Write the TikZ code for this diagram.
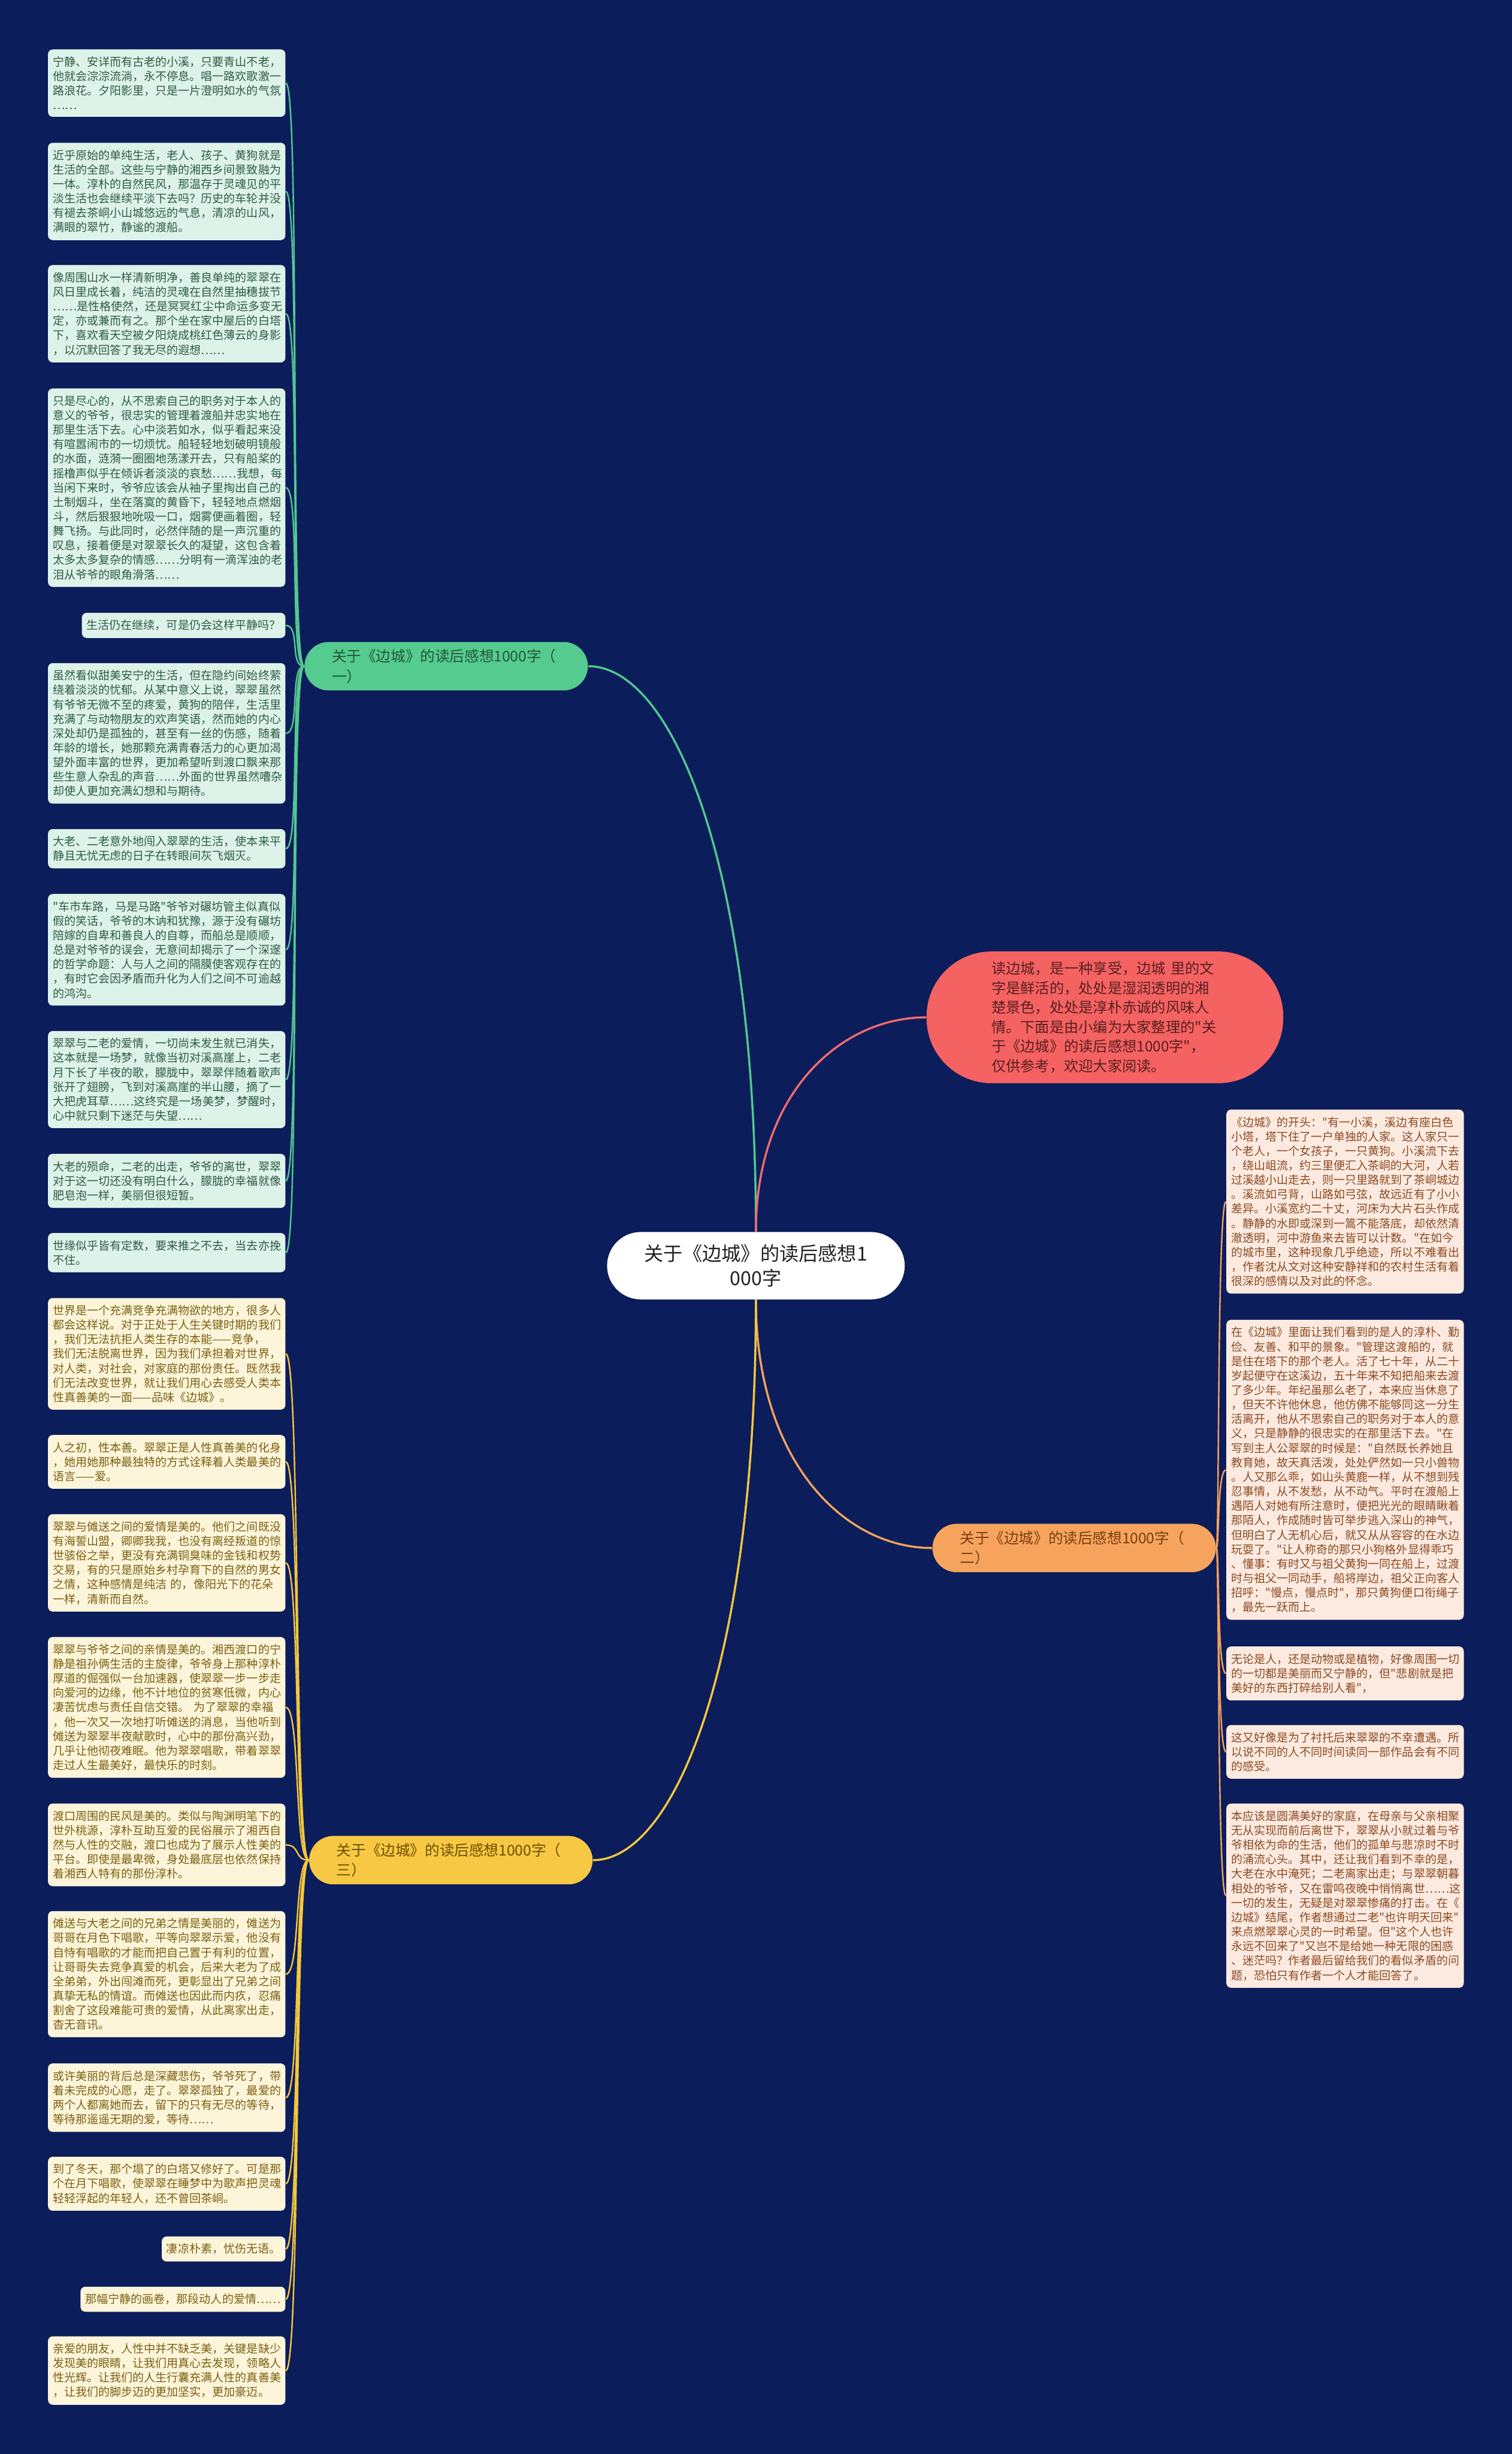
\documentclass[tikz,border=0pt]{standalone}
\usepackage{fontspec}
\setmainfont{Noto Sans CJK SC}[Ligatures=TeXOff]
\usepackage{xcolor}
\usetikzlibrary{positioning,calc}
\definecolor{bgnavy}{HTML}{0C1D5B}
\definecolor{lineg}{HTML}{52C88E}
\definecolor{leafgfill}{HTML}{DDF3E9}
\definecolor{leafgtext}{HTML}{2F5A44}
\definecolor{nodeg}{HTML}{55CB8F}
\definecolor{nodegtext}{HTML}{24553A}
\definecolor{liney}{HTML}{F3C73C}
\definecolor{leafyfill}{HTML}{FCF5DA}
\definecolor{leafytext}{HTML}{7B6012}
\definecolor{nodey}{HTML}{F7C843}
\definecolor{nodeytext}{HTML}{6B4E00}
\definecolor{lineo}{HTML}{F2A25C}
\definecolor{leafofill}{HTML}{FCEAE0}
\definecolor{leafotext}{HTML}{8B4A22}
\definecolor{nodeo}{HTML}{F6A45D}
\definecolor{nodeotext}{HTML}{7A3D0F}
\definecolor{introfill}{HTML}{F46262}
\definecolor{introtext}{HTML}{5A1F1F}
\definecolor{linep}{HTML}{F06C6C}
\definecolor{maintext}{HTML}{222222}

\begin{document}
\begin{tikzpicture}[
   leaf/.style={rounded corners=0.8mm,inner xsep=0.8mm,inner ysep=1.2mm,align=left,
     font=\fontsize{5.5}{6.97}\selectfont},
   leafG/.style={leaf,fill=leafgfill,text=leafgtext,anchor=north east},
   leafY/.style={leaf,fill=leafyfill,text=leafytext,anchor=north east},
   leafO/.style={leaf,fill=leafofill,text=leafotext,anchor=north west},
   wide/.style={text width=38.6mm},
   branch/.style={rounded corners=4.1mm,minimum width=48mm,minimum height=8.2mm,
     text width=38.7mm,align=left,inner sep=0pt,font=\fontsize{7.1}{9.7}\selectfont},
   tie/.style={line width=0.7pt},
   trunk/.style={line width=1pt}]
  \useasboundingbox (0,0) rectangle (25.6,-41.55);
  \fill[bgnavy] (0,0) rectangle (25.6,-41.55);

  \node[fill=white,text=maintext,rounded corners=5.7mm,minimum width=50.4mm,minimum height=11.4mm,
    align=center,font=\fontsize{9.3}{12}\selectfont] (main) at (12.80,-21.43) {关于《边城》的读后感想1\\000字};
  \node[fill=introfill,text=introtext,rounded corners=11mm,minimum width=60.4mm,minimum height=22.3mm,
    text width=38.4mm,align=left,font=\fontsize{7}{9.4}\selectfont] (intro) at (18.71,-17.225)
    {读边城，是一种享受，边城~里的文\\字是鲜活的，处处是湿润透明的湘\\楚景色，处处是淳朴赤诚的风味人\\情。下面是由小编为大家整理的"关\\于《边城》的读后感想1000字"，\\仅供参考，欢迎大家阅读。};
  \node[branch,fill=nodeg,text=nodegtext] (b1) at (7.555,-11.28) {关于《边城》的读后感想1000字（\\一）};
  \node[branch,fill=nodeo,text=nodeotext] (b2) at (18.19,-26.21) {关于《边城》的读后感想1000字（\\二）};
  \node[branch,fill=nodey,text=nodeytext] (b3) at (7.635,-31.495) {关于《边城》的读后感想1000字（\\三）};

  \node[leafG,wide] (g1) at (4.84,-0.83) {宁静、安详而有古老的小溪，只要青山不老，\\他就会淙淙流淌，永不停息。唱一路欢歌激一\\路浪花。夕阳影里，只是一片澄明如水的气氛\\……};
  \node[leafG,wide] (g2) at (4.84,-2.41) {近乎原始的单纯生活，老人、孩子、黄狗就是\\生活的全部。这些与宁静的湘西乡间景致融为\\一体。淳朴的自然民风，那温存于灵魂见的平\\淡生活也会继续平淡下去吗？历史的车轮并没\\有褪去茶峒小山城悠远的气息，清凉的山风，\\满眼的翠竹，静谧的渡船。};
  \node[leafG,wide] (g3) at (4.84,-4.48) {像周围山水一样清新明净，善良单纯的翠翠在\\风日里成长着，纯洁的灵魂在自然里抽穗拔节\\……是性格使然，还是冥冥红尘中命运多变无\\定，亦或兼而有之。那个坐在家中屋后的白塔\\下，喜欢看天空被夕阳烧成桃红色薄云的身影\\，以沉默回答了我无尽的遐想……};
  \node[leafG,wide] (g4) at (4.84,-6.57) {只是尽心的，从不思索自己的职务对于本人的\\意义的爷爷，很忠实的管理着渡船并忠实地在\\那里生活下去。心中淡若如水，似乎看起来没\\有喧嚣闹市的一切烦忧。船轻轻地划破明镜般\\的水面，涟漪一圈圈地荡漾开去，只有船桨的\\摇橹声似乎在倾诉者淡淡的哀愁……我想，每\\当闲下来时，爷爷应该会从袖子里掏出自己的\\土制烟斗，坐在落寞的黄昏下，轻轻地点燃烟\\斗，然后狠狠地吮吸一口，烟雾便画着圈，轻\\舞飞扬。与此同时，必然伴随的是一声沉重的\\叹息，接着便是对翠翠长久的凝望，这包含着\\太多太多复杂的情感……分明有一滴浑浊的老\\泪从爷爷的眼角滑落……};
  \node[leafG] (g5) at (4.84,-10.37) {生活仍在继续，可是仍会这样平静吗？};
  \node[leafG,wide] (g6) at (4.84,-11.22) {虽然看似甜美安宁的生活，但在隐约间始终萦\\绕着淡淡的忧郁。从某中意义上说，翠翠虽然\\有爷爷无微不至的疼爱，黄狗的陪伴，生活里\\充满了与动物朋友的欢声笑语，然而她的内心\\深处却仍是孤独的，甚至有一丝的伤感，随着\\年龄的增长，她那颗充满青春活力的心更加渴\\望外面丰富的世界，更加希望听到渡口飘来那\\些生意人杂乱的声音……外面的世界虽然嘈杂\\却使人更加充满幻想和与期待。};
  \node[leafG,wide] (g7) at (4.84,-14.03) {大老、二老意外地闯入翠翠的生活，使本来平\\静且无忧无虑的日子在转眼间灰飞烟灭。};
  \node[leafG,wide] (g8) at (4.84,-15.13) {"车市车路，马是马路"爷爷对碾坊管主似真似\\假的笑话，爷爷的木讷和犹豫，源于没有碾坊\\陪嫁的自卑和善良人的自尊，而船总是顺顺，\\总是对爷爷的误会，无意间却揭示了一个深邃\\的哲学命题：人与人之间的隔膜使客观存在的\\，有时它会因矛盾而升化为人们之间不可逾越\\的鸿沟。};
  \node[leafG,wide] (g9) at (4.84,-17.45) {翠翠与二老的爱情，一切尚未发生就已消失，\\这本就是一场梦，就像当初对溪高崖上，二老\\月下长了半夜的歌，朦胧中，翠翠伴随着歌声\\张开了翅膀，飞到对溪高崖的半山腰，摘了一\\大把虎耳草……这终究是一场美梦，梦醒时，\\心中就只剩下迷茫与失望……};
  \node[leafG,wide] (g10) at (4.84,-19.53) {大老的殒命，二老的出走，爷爷的离世，翠翠\\对于这一切还没有明白什么，朦胧的幸福就像\\肥皂泡一样，美丽但很短暂。};
  \node[leafG,wide] (g11) at (4.84,-20.87) {世缘似乎皆有定数，要来推之不去，当去亦挽\\不住。};

  \node[leafY,wide] (y1) at (4.84,-21.97) {世界是一个充满竞争充满物欲的地方，很多人\\都会这样说。对于正处于人生关键时期的我们\\，我们无法抗拒人类生存的本能——竞争，\\我们无法脱离世界，因为我们承担着对世界，\\对人类，对社会，对家庭的那份责任。既然我\\们无法改变世界，就让我们用心去感受人类本\\性真善美的一面——品味《边城》。};
  \node[leafY,wide] (y2) at (4.84,-24.29) {人之初，性本善。翠翠正是人性真善美的化身\\，她用她那种最独特的方式诠释着人类最美的\\语言——爱。};
  \node[leafY,wide] (y3) at (4.84,-25.63) {翠翠与傩送之间的爱情是美的。他们之间既没\\有海誓山盟，卿卿我我，也没有离经叛道的惊\\世骇俗之举，更没有充满铜臭味的金钱和权势\\交易，有的只是原始乡村孕育下的自然的男女\\之情，这种感情是纯洁~的，像阳光下的花朵\\一样，清新而自然。};
  \node[leafY,wide] (y4) at (4.84,-27.71) {翠翠与爷爷之间的亲情是美的。湘西渡口的宁\\静是祖孙俩生活的主旋律，爷爷身上那种淳朴\\厚道的倔强似一台加速器，使翠翠一步一步走\\向爱河的边缘，他不计地位的贫寒低微，内心\\凄苦忧虑与责任自信交错。~为了翠翠的幸福\\，他一次又一次地打听傩送的消息，当他听到\\傩送为翠翠半夜献歌时，心中的那份高兴劲，\\几乎让他彻夜难眠。他为翠翠唱歌，带着翠翠\\走过人生最美好，最快乐的时刻。};
  \node[leafY,wide] (y5) at (4.84,-30.53) {渡口周围的民风是美的。类似与陶渊明笔下的\\世外桃源，淳朴互助互爱的民俗展示了湘西自\\然与人性的交融，渡口也成为了展示人性美的\\平台。即使是最卑微，身处最底层也依然保持\\着湘西人特有的那份淳朴。};
  \node[leafY,wide] (y6) at (4.84,-32.35) {傩送与大老之间的兄弟之情是美丽的，傩送为\\哥哥在月色下唱歌，平等向翠翠示爱，他没有\\自恃有唱歌的才能而把自己置于有利的位置，\\让哥哥失去竞争真爱的机会，后来大老为了成\\全弟弟，外出闯滩而死，更彰显出了兄弟之间\\真挚无私的情谊。而傩送也因此而内疚，忍痛\\割舍了这段难能可贵的爱情，从此离家出走，\\杳无音讯。};
  \node[leafY,wide] (y7) at (4.84,-34.93) {或许美丽的背后总是深藏悲伤，爷爷死了，带\\着未完成的心愿，走了。翠翠孤独了，最爱的\\两个人都离她而去，留下的只有无尽的等待，\\等待那遥遥无期的爱，等待……};
  \node[leafY,wide] (y8) at (4.84,-36.51) {到了冬天，那个塌了的白塔又修好了。可是那\\个在月下唱歌，使翠翠在睡梦中为歌声把灵魂\\轻轻浮起的年轻人，还不曾回茶峒。};
  \node[leafY] (y9) at (4.84,-37.86) {凄凉朴素，忧伤无语。};
  \node[leafY] (y10) at (4.84,-38.71) {那幅宁静的画卷，那段动人的爱情……};
  \node[leafY,wide] (y11) at (4.84,-39.55) {亲爱的朋友，人性中并不缺乏美，关键是缺少\\发现美的眼睛，让我们用真心去发现，领略人\\性光辉。让我们的人生行囊充满人性的真善美\\，让我们的脚步迈的更加坚实，更加豪迈。};

  \node[leafO,wide] (r1) at (20.76,-18.78) {《边城》的开头："有一小溪，溪边有座白色\\小塔，塔下住了一户单独的人家。这人家只一\\个老人，一个女孩子，一只黄狗。小溪流下去\\，绕山岨流，约三里便汇入茶峒的大河，人若\\过溪越小山走去，则一只里路就到了茶峒城边\\。溪流如弓背，山路如弓弦，故远近有了小小\\差异。小溪宽约二十丈，河床为大片石头作成\\。静静的水即或深到一篙不能落底，却依然清\\澈透明，河中游鱼来去皆可以计数。"在如今\\的城市里，这种现象几乎绝迹，所以不难看出\\，作者沈从文对这种安静祥和的农村生活有着\\很深的感情以及对此的怀念。};
  \node[leafO,wide] (r2) at (20.76,-22.34) {在《边城》里面让我们看到的是人的淳朴、勤\\俭、友善、和平的景象。"管理这渡船的，就\\是住在塔下的那个老人。活了七十年，从二十\\岁起便守在这溪边，五十年来不知把船来去渡\\了多少年。年纪虽那么老了，本来应当休息了\\，但天不许他休息，他仿佛不能够同这一分生\\活离开，他从不思索自己的职务对于本人的意\\义，只是静静的很忠实的在那里活下去。"在\\写到主人公翠翠的时候是："自然既长养她且\\教育她，故天真活泼，处处俨然如一只小兽物\\。人又那么乖，如山头黄鹿一样，从不想到残\\忍事情，从不发愁，从不动气。平时在渡船上\\遇陌人对她有所注意时，便把光光的眼睛瞅着\\那陌人，作成随时皆可举步逃入深山的神气，\\但明白了人无机心后，就又从从容容的在水边\\玩耍了。"让人称奇的那只小狗格外显得乖巧\\、懂事：有时又与祖父黄狗一同在船上，过渡\\时与祖父一同动手，船将岸边，祖父正向客人\\招呼："慢点，慢点时"，那只黄狗便口衔绳子\\，最先一跃而上。};
  \node[leafO,wide] (r3) at (20.76,-27.87) {无论是人，还是动物或是植物，好像周围一切\\的一切都是美丽而又宁静的，但"悲剧就是把\\美好的东西打碎给别人看"，};
  \node[leafO,wide] (r4) at (20.76,-29.20) {这又好像是为了衬托后来翠翠的不幸遭遇。所\\以说不同的人不同时间读同一部作品会有不同\\的感受。};
  \node[leafO,wide] (r5) at (20.76,-30.53) {本应该是圆满美好的家庭，在母亲与父亲相聚\\无从实现而前后离世下，翠翠从小就过着与爷\\爷相依为命的生活，他们的孤单与悲凉时不时\\的涌流心头。其中，还让我们看到不幸的是，\\大老在水中淹死；二老离家出走；与翠翠朝暮\\相处的爷爷，又在雷鸣夜晚中悄悄离世……这\\一切的发生，无疑是对翠翠惨痛的打击。在《\\边城》结尾，作者想通过二老"也许明天回来"\\来点燃翠翠心灵的一时希望。但"这个人也许\\永远不回来了"又岂不是给她一种无限的困惑\\、迷茫吗？作者最后留给我们的看似矛盾的问\\题，恐怕只有作者一个人才能回答了。};

  \draw[trunk,lineg] (main.north) .. controls ($(main.north)!0.65!(main.north |- b1.east)$) and ($(b1.east)!0.5!(b1.east -| main.north)$) .. (b1.east);
  \draw[trunk,linep] (main.north) .. controls ($(main.north)!0.65!(main.north |- intro.west)$) and ($(intro.west)!0.5!(intro.west -| main.north)$) .. (intro.west);
  \draw[trunk,lineo] (main.south) .. controls ($(main.south)!0.65!(main.south |- b2.west)$) and ($(b2.west)!0.5!(b2.west -| main.south)$) .. (b2.west);
  \draw[trunk,liney] (main.south) .. controls ($(main.south)!0.65!(main.south |- b3.east)$) and ($(b3.east)!0.5!(b3.east -| main.south)$) .. (b3.east);

  \draw[tie,lineg] (b1.west) .. controls +(-0.25,0) and +(0.25,0) .. (g1.east);
  \draw[tie,lineg] (b1.west) .. controls +(-0.25,0) and +(0.25,0) .. (g2.east);
  \draw[tie,lineg] (b1.west) .. controls +(-0.25,0) and +(0.25,0) .. (g3.east);
  \draw[tie,lineg] (b1.west) .. controls +(-0.25,0) and +(0.25,0) .. (g4.east);
  \draw[tie,lineg] (b1.west) .. controls +(-0.25,0) and +(0.25,0) .. (g5.east);
  \draw[tie,lineg] (b1.west) .. controls +(-0.25,0) and +(0.25,0) .. (g6.east);
  \draw[tie,lineg] (b1.west) .. controls +(-0.25,0) and +(0.25,0) .. (g7.east);
  \draw[tie,lineg] (b1.west) .. controls +(-0.25,0) and +(0.25,0) .. (g8.east);
  \draw[tie,lineg] (b1.west) .. controls +(-0.25,0) and +(0.25,0) .. (g9.east);
  \draw[tie,lineg] (b1.west) .. controls +(-0.25,0) and +(0.25,0) .. (g10.east);
  \draw[tie,lineg] (b1.west) .. controls +(-0.25,0) and +(0.25,0) .. (g11.east);

  \draw[tie,liney] (b3.west) .. controls +(-0.25,0) and +(0.25,0) .. (y1.east);
  \draw[tie,liney] (b3.west) .. controls +(-0.25,0) and +(0.25,0) .. (y2.east);
  \draw[tie,liney] (b3.west) .. controls +(-0.25,0) and +(0.25,0) .. (y3.east);
  \draw[tie,liney] (b3.west) .. controls +(-0.25,0) and +(0.25,0) .. (y4.east);
  \draw[tie,liney] (b3.west) .. controls +(-0.25,0) and +(0.25,0) .. (y5.east);
  \draw[tie,liney] (b3.west) .. controls +(-0.25,0) and +(0.25,0) .. (y6.east);
  \draw[tie,liney] (b3.west) .. controls +(-0.25,0) and +(0.25,0) .. (y7.east);
  \draw[tie,liney] (b3.west) .. controls +(-0.25,0) and +(0.25,0) .. (y8.east);
  \draw[tie,liney] (b3.west) .. controls +(-0.25,0) and +(0.25,0) .. (y9.east);
  \draw[tie,liney] (b3.west) .. controls +(-0.25,0) and +(0.25,0) .. (y10.east);
  \draw[tie,liney] (b3.west) .. controls +(-0.25,0) and +(0.25,0) .. (y11.east);

  \draw[tie,lineo] (b2.east) .. controls +(0.05,0) and +(-0.15,0) .. (r1.west);
  \draw[tie,lineo] (b2.east) .. controls +(0.05,0) and +(-0.15,0) .. (r2.west);
  \draw[tie,lineo] (b2.east) .. controls +(0.05,0) and +(-0.15,0) .. (r3.west);
  \draw[tie,lineo] (b2.east) .. controls +(0.05,0) and +(-0.15,0) .. (r4.west);
  \draw[tie,lineo] (b2.east) .. controls +(0.05,0) and +(-0.15,0) .. (r5.west);
\end{tikzpicture}
\end{document}
